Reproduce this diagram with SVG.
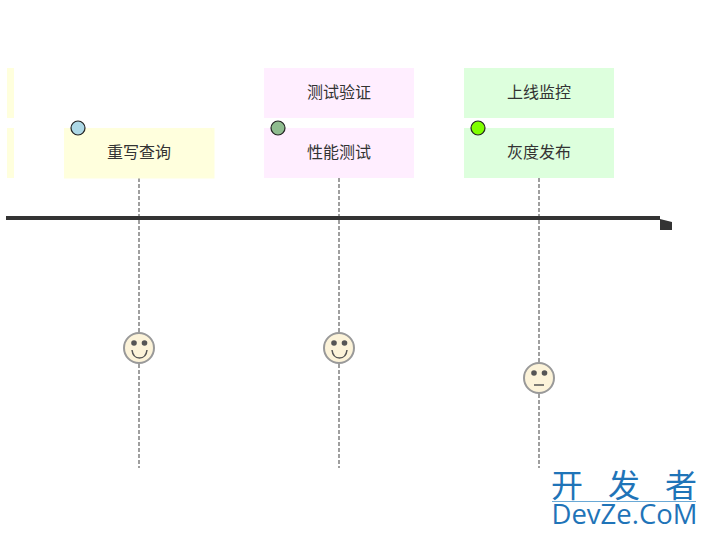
<svg xmlns="http://www.w3.org/2000/svg" width="708" height="536" viewBox="0 0 708 536">
<style>
.t{font-family:"Noto Sans CJK SC","Liberation Sans",sans-serif;font-size:16px;fill:#333;text-anchor:middle}
.y{fill:#ffffdd}.p{fill:#ffeeff}.g{fill:#ddffdd}
.dot{stroke:#222;stroke-width:1.2}
.dash{stroke:#808080;stroke-width:1.5;stroke-dasharray:4 2;fill:none}
.face{fill:#fcf3d9;stroke:#999;stroke-width:2}
.eye{fill:#555}
.mouth{fill:none;stroke:#555;stroke-width:1.5}
</style>
<rect width="708" height="536" fill="#fff"/>
<g id="connectors">
<path class="dash" d="M139 178V332M139 364V468"/>
<path class="dash" d="M339 178V332M339 364V468"/>
<path class="dash" d="M539 178V362M539 394V468"/>
<path d="M6 218H660" stroke="#333" stroke-width="4" fill="none"/>
<path d="M660 219L672 222V230H660Z" fill="#333"/>
</g>
<g id="node-left-top"><rect class="y" x="7" y="68" width="7" height="50"/></g>
<g id="node-left-bottom"><rect class="y" x="7" y="128" width="7" height="50"/></g>
<g id="node-rewrite"><rect class="y" x="64" y="128" width="150.500" height="50.500"/><text class="t" x="139" y="158">重写查询</text><circle class="dot" cx="78" cy="128" r="7" fill="#add8e6"/></g>
<g id="node-verify"><rect class="p" x="264" y="68" width="150" height="50"/><text class="t" x="339" y="98">测试验证</text></g>
<g id="node-perf"><rect class="p" x="264" y="128" width="150" height="50"/><text class="t" x="339" y="158">性能测试</text><circle class="dot" cx="278" cy="128" r="7" fill="#8fbc8f"/></g>
<g id="node-monitor"><rect class="g" x="464" y="68" width="150" height="50"/><text class="t" x="539" y="98">上线监控</text></g>
<g id="node-gray"><rect class="g" x="464" y="128" width="150" height="50"/><text class="t" x="539" y="158">灰度发布</text><circle class="dot" cx="478" cy="128" r="7" fill="#7fff00"/></g>
<g id="face-1"><circle class="face" cx="139" cy="348" r="15"/><circle class="eye" cx="134" cy="343" r="2.800"/><circle class="eye" cx="144.500" cy="343" r="2.800"/><path class="mouth" d="M132 350Q133 358 139.500 358Q146 358 147 350"/></g>
<g id="face-2"><circle class="face" cx="339" cy="348" r="15"/><circle class="eye" cx="334" cy="343" r="2.800"/><circle class="eye" cx="344.500" cy="343" r="2.800"/><path class="mouth" d="M332 350Q333 358 339.500 358Q346 358 347 350"/></g>
<g id="face-3"><circle class="face" cx="539" cy="378" r="15"/><circle class="eye" cx="534" cy="373" r="2.800"/><circle class="eye" cx="544.500" cy="373" r="2.800"/><path class="mouth" d="M534 385H544"/></g>
<g id="watermark">
<text x="624" y="497" font-family="Noto Sans CJK SC,sans-serif" font-size="32" fill="#1f74b8" text-anchor="middle" textLength="146" lengthAdjust="spacing">开发者</text>
<path d="M552 501.500H696" stroke="#6aa9d6" stroke-width="1"/>
<text x="624.500" y="524" font-family="Open Sans,sans-serif" font-size="27" fill="#1f74b8" text-anchor="middle" textLength="146" lengthAdjust="spacingAndGlyphs">DevZe.CoM</text>
</g>
</svg>
